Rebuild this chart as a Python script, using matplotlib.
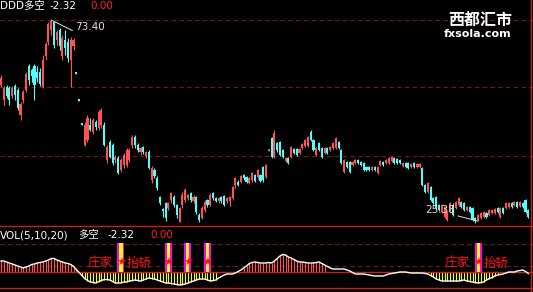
import numpy as np
import matplotlib.pyplot as plt

# daily candles (price)
opens = [58.0, 54.5, 57.5, 57.3, 55.4, 57.8, 56.8, 50.9, 54.5, 56.8,
         62.5, 61.6, 62.5, 61.1, 61.1, 57.5, 64.9, 68.2, 71.0, 72.9,
         68.7, 71.0, 64.9, 68.7, 68.2, 63.9, 67.2, 61.1, 54.7, 49.0,
         43.8, 45.0, 48.6, 46.9, 49.3, 47.9, 48.6, 48.6, 40.3, 44.5,
         43.8, 40.3, 40.8, 37.9, 39.1, 39.1, 40.3, 43.8, 45.7, 43.8,
         42.2, 43.4, 41.2, 42.2, 35.5, 37.9, 36.0, 31.5, 28.7, 30.1,
         28.9, 30.8, 31.5, 29.6, 25.6, 29.6, 30.8, 31.3, 32.5, 30.6,
         31.5, 27.3, 26.6, 28.4, 30.8, 29.6, 32.5, 31.3, 30.6, 31.5,
         31.8, 30.6, 30.6, 31.3, 34.4, 35.1, 35.1, 36.7, 36.3, 34.8,
         35.5, 36.7, 36.3, 36.7, 38.6, 36.3, 42.4, 45.5, 41.0, 44.3,
         44.5, 42.6, 40.0, 40.8, 41.0, 42.9, 42.9, 41.9, 43.1, 43.6,
         43.6, 46.9, 45.0, 41.5, 44.3, 43.1, 41.9, 43.1, 42.6, 43.1,
         43.1, 44.5, 42.6, 37.4, 39.8, 39.8, 39.1, 39.6, 40.3, 39.8,
         39.6, 38.6, 38.6, 37.9, 38.6, 37.2, 39.1, 39.8, 39.6, 39.6,
         40.0, 40.8, 40.5, 40.3, 38.9, 39.6, 39.6, 38.6, 39.6, 38.6,
         38.6, 38.4, 34.4, 32.7, 33.9, 31.3, 31.5, 29.6, 28.0, 26.8,
         26.1, 28.4, 29.6, 28.9, 29.6, 30.3, 30.1, 28.4, 29.2, 28.9,
         26.6, 26.1, 26.6, 26.8, 27.7, 27.3, 27.7, 27.7, 28.9, 26.8,
         28.9, 28.9, 29.2, 30.1, 29.6, 30.3, 29.4, 30.1, 30.8, 28.4]
closes = [59.7, 57.3, 55.4, 54.5, 57.3, 55.7, 52.6, 53.5, 56.4, 60.6,
          59.2, 60.2, 58.0, 59.7, 58.3, 63.9, 67.7, 72.5, 73.2, 67.5,
          70.6, 67.2, 69.1, 66.8, 64.4, 68.7, 68.7, 60.6, 54.2, 48.6,
          48.6, 50.2, 47.4, 49.7, 48.1, 51.6, 52.1, 43.8, 43.4, 41.0,
          39.6, 41.0, 37.2, 40.3, 41.5, 42.6, 42.6, 45.7, 43.8, 42.6,
          43.1, 42.2, 42.2, 38.4, 38.4, 36.5, 33.7, 30.1, 28.2, 26.6,
          30.1, 32.5, 29.6, 27.3, 28.9, 32.0, 33.2, 32.0, 30.8, 31.5,
          28.0, 26.1, 28.9, 30.3, 29.6, 32.0, 31.3, 30.6, 31.3, 30.6,
          29.6, 31.3, 31.5, 33.9, 36.0, 34.4, 36.5, 36.0, 35.1, 36.0,
          37.2, 35.3, 37.9, 35.3, 35.5, 39.1, 42.9, 41.0, 46.7, 42.6,
          41.5, 41.0, 40.8, 39.6, 43.4, 41.9, 41.5, 42.9, 44.1, 45.0,
          45.7, 45.0, 42.6, 43.1, 42.6, 41.0, 43.1, 41.9, 43.4, 44.3,
          45.5, 43.1, 39.6, 40.3, 38.6, 37.4, 39.8, 40.3, 39.6, 39.1,
          37.9, 37.9, 37.9, 38.6, 37.9, 38.6, 40.0, 39.1, 40.3, 40.8,
          41.0, 39.6, 39.6, 39.6, 39.6, 38.6, 38.4, 39.3, 38.6, 39.3,
          39.3, 34.4, 32.7, 34.8, 30.8, 30.1, 28.9, 28.4, 29.6, 29.2,
          28.0, 30.1, 27.3, 30.3, 31.3, 29.2, 28.4, 29.2, 28.0, 26.1,
          25.8, 27.3, 27.7, 28.0, 26.8, 28.4, 28.4, 28.7, 28.0, 28.9,
          27.7, 30.1, 30.1, 29.2, 30.3, 29.2, 30.3, 29.2, 28.0, 26.8]
highs = [60.4, 57.8, 58.0, 57.8, 57.8, 58.3, 57.3, 54.0, 56.8, 61.1,
         63.0, 62.0, 63.0, 62.5, 62.0, 65.1, 68.2, 72.9, 73.4, 73.2,
         71.0, 71.5, 69.9, 71.0, 69.1, 69.4, 69.1, 61.1, 54.7, 49.0,
         49.3, 50.9, 50.2, 50.2, 49.7, 52.1, 52.6, 49.3, 43.8, 45.0,
         44.3, 41.5, 41.2, 40.8, 41.9, 43.1, 43.1, 46.2, 46.2, 44.3,
         43.4, 43.6, 42.4, 42.6, 38.9, 38.4, 36.5, 31.8, 28.9, 30.3,
         30.3, 32.7, 32.0, 29.9, 29.2, 32.7, 33.7, 32.2, 32.7, 32.0,
         31.8, 27.7, 29.4, 30.8, 31.1, 32.5, 32.7, 31.5, 31.5, 31.8,
         32.0, 31.5, 31.8, 34.1, 36.3, 35.5, 36.7, 37.0, 36.5, 36.3,
         37.4, 37.0, 38.1, 37.0, 38.9, 39.3, 42.9, 45.7, 47.4, 44.5,
         44.8, 42.9, 41.0, 41.0, 43.6, 43.1, 43.1, 43.1, 44.3, 45.2,
         46.0, 47.4, 45.2, 43.4, 44.5, 43.4, 43.4, 43.4, 43.6, 44.5,
         45.7, 44.8, 42.9, 40.5, 40.0, 40.0, 40.0, 40.5, 40.5, 40.0,
         39.8, 38.9, 38.9, 38.9, 38.9, 38.9, 40.3, 40.0, 40.5, 41.0,
         41.2, 41.0, 40.8, 40.5, 39.8, 39.8, 39.8, 39.6, 39.8, 39.6,
         39.6, 38.6, 34.6, 35.1, 34.1, 31.5, 31.8, 29.9, 29.9, 29.4,
         28.2, 30.3, 30.1, 30.6, 31.5, 30.6, 30.3, 29.4, 29.4, 29.2,
         26.8, 27.5, 28.0, 28.2, 28.0, 28.7, 28.7, 28.9, 29.2, 29.2,
         29.2, 30.3, 30.3, 30.3, 30.6, 30.6, 30.6, 30.3, 31.1, 28.7]
lows = [57.5, 53.3, 54.9, 53.3, 54.9, 54.5, 52.1, 49.7, 53.8, 56.4,
        58.0, 58.7, 54.5, 58.7, 57.8, 57.3, 63.9, 67.5, 69.9, 66.8,
        67.5, 66.3, 63.9, 65.1, 63.5, 57.5, 66.3, 60.6, 54.2, 48.6,
        43.6, 44.5, 47.1, 46.4, 47.4, 47.4, 47.9, 43.6, 39.6, 40.8,
        39.1, 39.6, 37.0, 37.4, 38.4, 38.6, 39.8, 43.1, 43.1, 42.2,
        41.5, 41.7, 40.8, 38.1, 34.8, 36.0, 33.2, 29.6, 26.8, 25.8,
        28.4, 30.1, 29.2, 26.6, 25.6, 28.9, 30.3, 30.8, 30.3, 30.1,
        27.5, 25.6, 26.3, 28.0, 29.2, 29.4, 30.8, 30.3, 30.1, 30.1,
        29.4, 30.1, 29.4, 30.8, 33.7, 34.1, 34.8, 35.5, 34.8, 34.6,
        35.1, 35.1, 35.8, 35.1, 35.1, 36.0, 42.4, 40.8, 40.8, 42.2,
        41.2, 40.8, 39.8, 39.3, 40.8, 41.7, 41.2, 41.7, 42.9, 43.4,
        43.4, 44.8, 42.4, 41.2, 42.4, 40.8, 41.7, 41.7, 42.4, 42.9,
        42.9, 42.9, 39.3, 37.2, 38.4, 37.2, 38.9, 39.3, 39.3, 38.9,
        37.7, 37.7, 37.7, 37.7, 37.7, 37.0, 38.9, 38.9, 39.3, 39.3,
        39.8, 39.3, 39.3, 39.3, 38.6, 38.4, 38.1, 38.4, 38.4, 38.4,
        38.4, 34.1, 32.5, 32.5, 30.6, 29.9, 28.7, 28.2, 27.7, 26.6,
        25.8, 28.2, 27.0, 28.7, 29.4, 28.9, 28.2, 28.2, 27.7, 25.8,
        25.4, 25.8, 26.3, 26.6, 26.6, 27.0, 27.5, 27.5, 27.7, 26.6,
        27.5, 28.7, 28.9, 28.9, 29.4, 28.9, 29.2, 28.9, 27.7, 26.6]

# VOL(5,10,20) 多空 indicator
duokong = [16.5, 16.5, 15.0, 13.5, 12.0, 10.5, 9.0, 7.5, 6.0, 7.5,
           9.0, 11.3, 12.0, 13.5, 14.3, 15.0, 16.5, 18.0, 20.3, 20.3,
           18.0, 16.5, 15.0, 13.5, 12.8, 11.3, 8.3, 3.8, -0.8, -5.3,
           -9.8, -12.8, -15.0, -15.8, -16.5, -14.3, -12.8, -11.3, -11.3, -12.0,
           -14.3, -16.5, -16.5, -16.5, -15.0, -15.0, -13.5, -12.8, -12.0, -12.8,
           -13.5, -12.0, -10.5, -9.0, -9.8, -10.5, -12.0, -13.5, -15.0, -16.5,
           -16.5, -17.3, -18.0, -18.8, -19.5, -18.8, -18.0, -16.5, -15.0, -13.5,
           -12.0, -10.5, -10.5, -10.5, -12.0, -13.5, -12.8, -12.0, -9.0, -6.8,
           -4.5, -3.0, -3.0, -3.0, -1.5, 0.8, 3.0, 6.0, 9.0, 12.8,
           14.3, 15.0, 14.3, 13.5, 13.5, 13.5, 14.3, 13.5, 16.5, 20.3,
           24.0, 26.3, 25.5, 22.5, 21.0, 18.8, 16.5, 15.0, 15.0, 14.3,
           13.5, 13.5, 13.5, 14.3, 15.0, 12.8, 10.5, 8.3, 6.0, 4.5,
           4.5, 4.5, 4.5, 4.5, 3.0, 1.5, -0.8, -3.0, -3.0, -3.0,
           -3.0, -3.8, -4.5, -5.3, -6.0, -6.0, -6.0, -6.0, -4.5, -3.0,
           -2.3, -1.5, -0.8, 0.0, 0.0, 0.0, -0.8, -1.5, -1.5, -1.5,
           -1.5, -1.5, -2.3, -3.0, -5.3, -7.5, -10.5, -12.0, -13.5, -13.5,
           -13.5, -13.5, -13.5, -13.5, -13.5, -12.8, -12.0, -13.5, -14.3, -15.0,
           -15.8, -16.5, -15.8, -15.0, -12.0, -9.8, -8.3, -6.0, -4.5, -3.8,
           -3.0, -1.5, 0.0, 0.0, 0.0, 1.5, 2.3, 3.0, 0.8, -2.32]

red_spans = [(0, 27), (87, 116)]
yellow_spans = [(28, 77), (154, 178)]
signals = [43, 60, 67, 74, 171]
signal_labels = [43, 171]
price_levels = [73.4, 57.5, 41.2]
vol_levels = [42, 9]
hi_idx, lo_idx = 18, 171

RED = '#ff5252'
CYAN = '#54fcfc'
BORDER = '#c81e1e'
DASH = '#701818'
CJK = ['DejaVu Sans', 'Noto Sans CJK SC']

W, H = 533, 292
fig = plt.figure(figsize=(W / 100, H / 100), dpi=100, facecolor='black')


def px(x, y):
    return x / W, 1 - y / H


# price panel
ax = fig.add_axes([0, 66 / H, 1, 226 / H])
ax.set_facecolor('black')
ax.axis('off')
ax.set_xlim(-0.36, 190.68)
ax.set_ylim(24.66, 78.13)

o = np.array(opens)
c = np.array(closes)
x = np.arange(len(o))
col = np.where(c >= o, RED, CYAN)
ax.vlines(x, lows, highs, colors=col, lw=0.8)
body = np.maximum(np.abs(c - o), 0.25)
ax.bar(x, body, bottom=np.minimum(o, c), width=0.75, color=col, linewidth=0)

for lv in price_levels:
    ax.axhline(lv, color=DASH, lw=0.8, ls=(0, (4, 3)), zorder=0)

ax.annotate(f'{highs[hi_idx]:.2f}', xy=(hi_idx, highs[hi_idx]), xytext=(24, -7),
            textcoords='offset pixels', color='#e0e0e0', fontsize=7.5,
            ha='left', va='center',
            arrowprops=dict(arrowstyle='-', color='#e0e0e0', lw=0.7,
                            relpos=(0, 0), shrinkA=0, shrinkB=0))
ax.annotate('25.38', xy=(lo_idx, lows[lo_idx]), xytext=(-23, 11),
            textcoords='offset pixels', color='#e0e0e0', fontsize=7.5,
            ha='right', va='center',
            arrowprops=dict(arrowstyle='-', color='#e0e0e0', lw=0.7,
                            relpos=(1, 0), shrinkA=0, shrinkB=0))

# indicator panel
ax2 = fig.add_axes([0, 0, 1, 66 / H])
ax2.set_facecolor('black')
ax2.axis('off')
ax2.set_xlim(-0.36, 190.68)
ax2.set_ylim(-30, 69)

dk = np.array(duokong)
for a, b in red_spans:
    idx = np.arange(a, b + 1)
    ax2.vlines(idx, 0, dk[idx], color=RED, lw=0.8)
for a, b in yellow_spans:
    idx = np.arange(a, b + 1)
    ax2.vlines(idx, 0, dk[idx], color='#ffff00', lw=0.8)
ax2.plot(x, dk, color='white', lw=1.0, zorder=3)

ax2.axhline(0, color=BORDER, lw=1.0, zorder=2)
ax2.axhline(-24, color=BORDER, lw=1.0)
for lv in vol_levels:
    ax2.axhline(lv, color=DASH, lw=0.8, ls=(0, (4, 3)), zorder=0)

for s in signals:
    ax2.bar(s, 43.5, width=2.5, color='#ff00ff', linewidth=0, zorder=4)
    ax2.bar(s, 43.5, width=1.1, color='#ffff00', linewidth=0, zorder=4)
    ax2.text(s, 13.5, '★', color='#ff1010', fontsize=8, ha='center', va='center', zorder=5)
for s in signal_labels:
    ax2.annotate('庄家', (s, 13.5), xytext=(-9, 0), textcoords='offset pixels',
                 ha='right', va='center', color='#ff1010', fontsize=9,
                 family='Noto Sans CJK SC', zorder=5)
    ax2.annotate('抬轿', (s, 13.5), xytext=(6, 0), textcoords='offset pixels',
                 ha='left', va='center', color='#ff1010', fontsize=9,
                 family='Noto Sans CJK SC', zorder=5)

# frame lines
fig.add_artist(plt.Line2D([0, 1], [1 - 226 / H] * 2, color=BORDER, lw=1.0))
fig.add_artist(plt.Line2D([531 / W] * 2, [0, 1], color=BORDER, lw=1.0))

# header texts
last = f'{duokong[-1]:.2f}'
fig.text(*px(0, 6), 'DDD多空', color='white', fontsize=7.5, family=CJK, va='center')
fig.text(*px(49, 6), last, color='white', fontsize=7.5, family=CJK, va='center')
fig.text(*px(90, 6), '0.00', color='#ff2020', fontsize=7.5, family=CJK, va='center')
fig.text(*px(0, 235), 'VOL(5,10,20)', color='white', fontsize=7.5, family=CJK, va='center')
fig.text(*px(78, 235), '多空', color='white', fontsize=7.5, family=CJK, va='center')
fig.text(*px(108, 235), last, color='white', fontsize=7.5, family=CJK, va='center')
fig.text(*px(150, 235), '0.00', color='#ff2020', fontsize=7.5, family=CJK, va='center')

# watermark
fig.text(*px(480, 20), '西都汇市', color='white', fontsize=11.5, fontweight='bold',
         family='Noto Sans CJK SC', ha='center', va='center')
fig.text(*px(478, 34), 'fxsola.com', color='white', fontsize=8, fontweight='bold',
         family='DejaVu Sans', ha='center', va='center')

fig.savefig('out.png', dpi=100, facecolor='black')
